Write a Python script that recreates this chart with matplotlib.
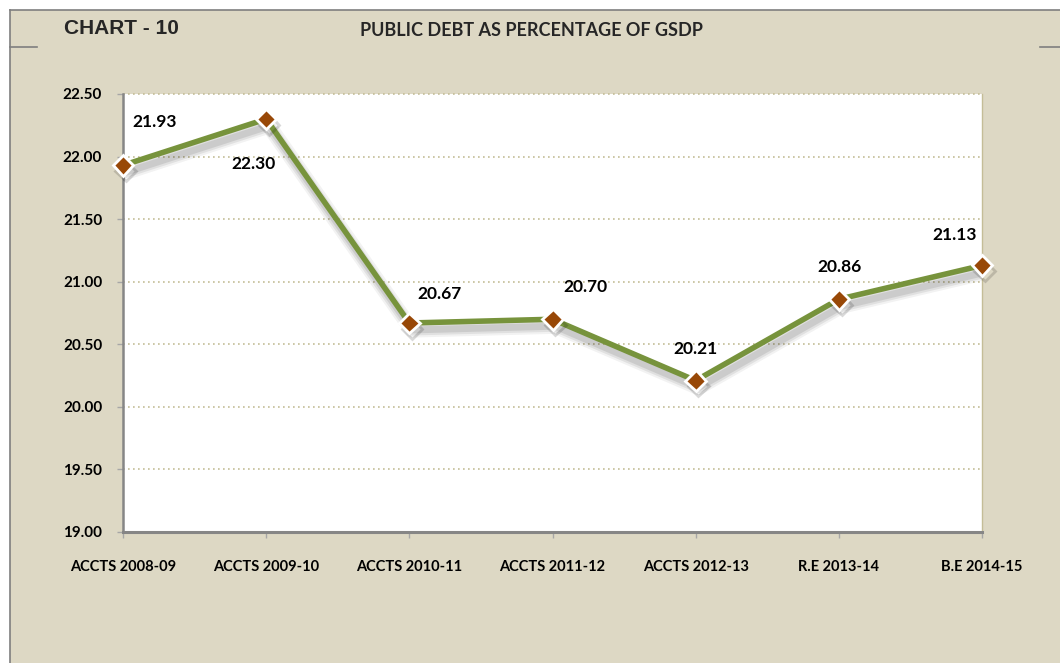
import matplotlib
matplotlib.use("Agg")
import matplotlib.pyplot as plt
import matplotlib.patheffects as pe
from matplotlib.patches import Rectangle
from matplotlib.lines import Line2D

categories = ["ACCTS 2008-09", "ACCTS 2009-10", "ACCTS 2010-11", "ACCTS 2011-12",
              "ACCTS 2012-13", "R.E 2013-14", "B.E 2014-15"]
values = [21.93, 22.30, 20.67, 20.70, 20.21, 20.86, 21.13]
yticks = [19.00, 19.50, 20.00, 20.50, 21.00, 21.50, 22.00, 22.50]
label_offsets = [(32, 43), (-13, -45), (30, 29), (33, 32), (0, 32), (1, 32), (-27, 30)]

plt.rcParams['font.family'] = ['Lato', 'DejaVu Sans']

W, H = 1060, 663
fig = plt.figure(figsize=(W/100, H/100), dpi=100)
fig.patch.set_facecolor('white')

bg = '#DDD8C4'
fig.patches.append(Rectangle((10/W, 0), 1, 1 - 10/H, transform=fig.transFigure,
                             facecolor=bg, edgecolor='none', zorder=-5))
fig.lines.append(Line2D([10/W, 1], [1 - 10/H, 1 - 10/H], transform=fig.transFigure,
                        color='#7f7f7f', lw=1.2, zorder=-4))
fig.lines.append(Line2D([10/W, 10/W], [0, 1 - 10/H], transform=fig.transFigure,
                        color='#7f7f7f', lw=1.2, zorder=-4))
fig.lines.append(Line2D([10/W, 37/W], [1 - 47/H, 1 - 47/H], transform=fig.transFigure,
                        color='#7f7f7f', lw=1.2, zorder=-4))
fig.lines.append(Line2D([1040/W, 1], [1 - 47/H, 1 - 47/H], transform=fig.transFigure,
                        color='#7f7f7f', lw=1.2, zorder=-4))

fig.text(64/W, 1 - 28/H, "CHART - 10", fontsize=15, fontweight='bold',
         color='#262626', va='center', ha='left', family=['Liberation Sans', 'DejaVu Sans'])
fig.text(531/W, 1 - 31/H, "PUBLIC DEBT AS PERCENTAGE OF GSDP", fontsize=13,
         fontweight='bold', color='#262626', va='center', ha='center', family=['Lato', 'DejaVu Sans'])

left, right, top, bottom = 123, 982, 94, 532
ax = fig.add_axes([left/W, 1 - bottom/H, (right-left)/W, (bottom-top)/H])
ax.set_facecolor('white')

x = list(range(len(categories)))
line_shadow = [
    pe.SimpleLineShadow(offset=(2, -5), alpha=0.05, shadow_color='black', linewidth=11),
    pe.SimpleLineShadow(offset=(2, -5), alpha=0.07, shadow_color='black', linewidth=8),
    pe.SimpleLineShadow(offset=(2, -5), alpha=0.09, shadow_color='black', linewidth=5),
    pe.Normal(),
]
ax.plot(x, values, color='#77933C', lw=4.0, solid_joinstyle='round', zorder=3,
        path_effects=line_shadow)
ax.plot(x, values, linestyle='none', marker='D', markersize=10.5, markerfacecolor='#984807',
        markeredgecolor='white', markeredgewidth=2.0, zorder=4, clip_on=False,
        path_effects=[pe.SimpleLineShadow(offset=(2, -4), alpha=0.15, shadow_color='black'), pe.Normal()])

for xi, v, off in zip(x, values, label_offsets):
    ax.annotate(f"{v:.2f}", (xi, v), xytext=off, textcoords='offset pixels',
                ha='center', va='center', fontsize=12.5, fontweight='bold', color='black')

ax.set_xlim(0, len(categories) - 1)
ax.set_ylim(19.0, 22.5)
ax.set_yticks(yticks)
ax.set_yticklabels([f"{t:.2f}" for t in yticks], fontsize=11, fontweight='bold', color='black')
ax.set_xticks(x)
ax.set_xticklabels(categories, fontsize=10.5, fontweight='bold', color='black')
ax.tick_params(axis='x', length=4, width=1, color='#a6a6a6', pad=16)
ax.tick_params(axis='y', length=4, width=1, color='#a6a6a6', pad=11)

for t in yticks[1:]:
    ax.axhline(t, color='#C4BD97', lw=1.2, linestyle=(0, (1, 2)), zorder=1, clip_on=False)

ax.spines['left'].set_color('#868686')
ax.spines['left'].set_linewidth(1.8)
ax.spines['bottom'].set_color('#868686')
ax.spines['bottom'].set_linewidth(2.2)
ax.spines['top'].set_visible(False)
ax.spines['right'].set_color('#C4BD97')
ax.spines['right'].set_linewidth(1.0)

fig.savefig("out.png", dpi=100, facecolor=fig.get_facecolor())
